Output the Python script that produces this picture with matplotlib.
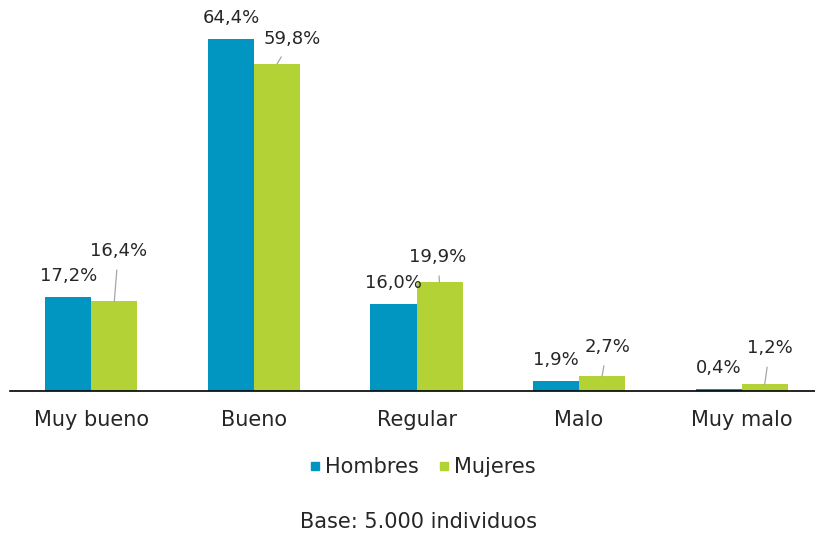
import matplotlib
matplotlib.use("Agg")
import matplotlib.pyplot as plt
from matplotlib.lines import Line2D
import numpy as np

categories = ["Muy bueno", "Bueno", "Regular", "Malo", "Muy malo"]
hombres = [17.2, 64.4, 16.0, 1.9, 0.4]
mujeres = [16.4, 59.8, 19.9, 2.7, 1.2]
series_names = ["Hombres", "Mujeres"]
footnote = "Base: 5.000 individuos"

# label offsets (pixels) for the Mujeres callouts: (dx, dy)
mujeres_label_offsets = [(4, 50), (15, 25), (-2, 25), (5, 29), (5, 36)]

blue = "#0096C1"
green = "#B2D235"
text_color = "#262626"
fs_data = 13
fs = 15

fig = plt.figure(figsize=(8.15, 5.33), dpi=100)
W, H = 815, 533
left_px, right_px = 10, 823
bottom_px, top_px = 391, 8.4
ax = fig.add_axes([left_px / W, (H - bottom_px) / H, (right_px - left_px) / W, (bottom_px - top_px) / H])

x = np.arange(len(categories))
bw = 0.283
ax.bar(x - bw / 2, hombres, bw, color=blue, label=series_names[0])
ax.bar(x + bw / 2, mujeres, bw, color=green, label=series_names[1])
ax.set_xlim(-0.5, len(categories) - 0.5)
ax.set_ylim(0, 70)

for xi, v in zip(x, hombres):
    ax.annotate(f"{v:.1f}".replace(".", ",") + "%", (xi - bw / 2, v),
                xytext=(0, 21), textcoords="offset pixels",
                ha="center", va="center", fontsize=fs_data, color=text_color)

for xi, v, (dx, dy) in zip(x, mujeres, mujeres_label_offsets):
    ax.annotate(f"{v:.1f}".replace(".", ",") + "%", (xi + bw / 2, v),
                xytext=(dx, dy), textcoords="offset pixels",
                ha="center", va="center", fontsize=fs_data, color=text_color,
                arrowprops=dict(arrowstyle="-", color="#A6A6A6", lw=0.9,
                                shrinkA=5, shrinkB=0))

for s in ["top", "right", "left"]:
    ax.spines[s].set_visible(False)
ax.spines["bottom"].set_color("#000000")
ax.spines["bottom"].set_linewidth(1.2)
ax.set_yticks([])
ax.set_xticks(x)
ax.set_xticklabels(categories, fontsize=fs, color=text_color)
ax.tick_params(axis="x", length=0, pad=14)

handles = [Line2D([], [], marker="s", linestyle="none", markersize=6, color=blue),
           Line2D([], [], marker="s", linestyle="none", markersize=6, color=green)]
fig.legend(handles, series_names, loc="center", bbox_to_anchor=(420 / W, 1 - 467 / H),
           ncol=2, frameon=False, fontsize=fs, handletextpad=0.0, columnspacing=0.7,
           handlelength=1.0, labelcolor=text_color)

fig.text(419 / W, 1 - 522 / H, footnote, ha="center", va="center", fontsize=fs, color=text_color)

fig.savefig("out.png", dpi=100)
